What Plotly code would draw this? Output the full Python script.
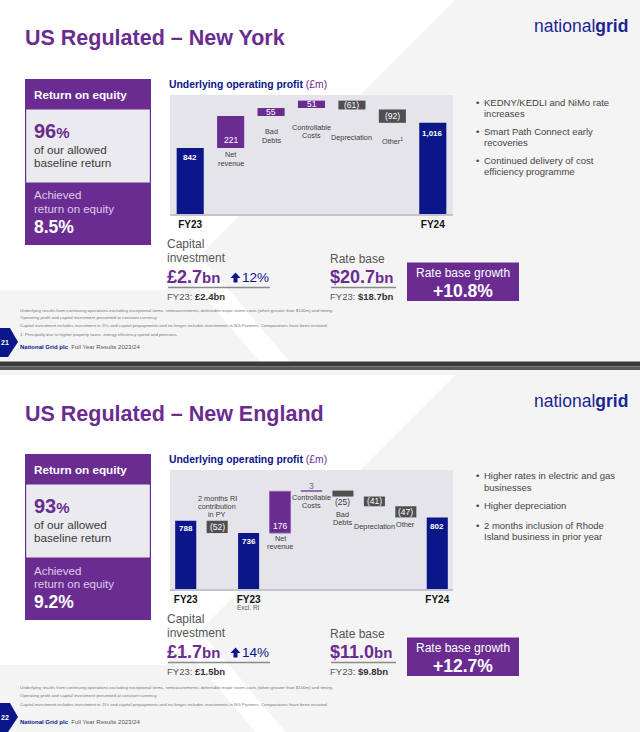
import plotly.graph_objects as go

W, H = 640, 732
OFF = 375  # vertical offset of the second slide

# ---------------- data: New York ----------------
NY_CATEGORIES = ["FY23", "Net revenue", "Bad Debts", "Controllable Costs", "Depreciation", "Other", "FY24"]
NY_VALUES = [842, 221, 55, 51, -61, -92, 1016]
NY_MEASURES = ["absolute", "relative", "relative", "relative", "relative", "relative", "total"]
NY_VALUE_TEXT = ["842", "221", "55", "51", "(61)", "(92)", "1,016"]
NY_CAT_TEXT = [[], ["Net", "revenue"], ["Bad", "Debts"], ["Controllable", "Costs"], ["Depreciation"], ["Other<sup>1</sup>"], []]
NY_TICK_TEXT = ["FY23", "", "", "", "", "", "FY24"]

NY_TITLE = "US Regulated – New York"
NY_ROE = "96"
NY_ACHIEVED = "8.5%"
NY_CAPEX = "£2.7"
NY_CAPEX_GROWTH = "12%"
NY_CAPEX_FY23 = "£2.4bn"
NY_RATE_BASE = "$20.7"
NY_RATE_BASE_FY23 = "$18.7bn"
NY_RB_GROWTH = "+10.8%"
NY_BULLETS = [["KEDNY/KEDLI and NiMo rate", "increases"],
              ["Smart Path Connect early", "recoveries"],
              ["Continued delivery of cost", "efficiency programme"]]
NY_FOOTNOTES = [
    "Underlying results from continuing operations excluding exceptional items, remeasurements, deferrable major storm costs (when greater than $100m) and timing.",
    "Operating profit and capital investment presented at constant currency.",
    "Capital investment includes investment in JVs and capital prepayments and no longer includes investments in NG Partners. Comparatives have been restated.",
    "1. Principally due to higher property taxes, energy efficiency spend and pensions.",
]
NY_PAGE = "21"

# ---------------- data: New England ----------------
NE_CATEGORIES = ["FY23", "RI", "FY23 Excl. RI", "Net revenue", "Controllable Costs", "Bad Debts", "Depreciation", "Other", "FY24"]
NE_VALUES = [788, -52, 736, 176, 3, -25, -41, -47, 802]
NE_MEASURES = ["absolute", "relative", "total", "relative", "relative", "relative", "relative", "relative", "total"]
NE_VALUE_TEXT = ["788", "(52)", "736", "176", "3", "(25)", "(41)", "(47)", "802"]
NE_CAT_TEXT = [[], ["2 months RI", "contribution", "in PY"], [], ["Net", "revenue"], ["Controllable", "Costs"],
               ["Bad", "Debts"], ["Depreciation"], ["Other"], []]
NE_TICK_TEXT = ["FY23", "", "FY23", "", "", "", "", "", "FY24"]
NE_TICK_SUB = ["", "", "Excl. RI", "", "", "", "", "", ""]

NE_TITLE = "US Regulated – New England"
NE_ROE = "93"
NE_ACHIEVED = "9.2%"
NE_CAPEX = "£1.7"
NE_CAPEX_GROWTH = "14%"
NE_CAPEX_FY23 = "£1.5bn"
NE_RATE_BASE = "$11.0"
NE_RATE_BASE_FY23 = "$9.8bn"
NE_RB_GROWTH = "+12.7%"
NE_BULLETS = [["Higher rates in electric and gas", "businesses"],
              ["Higher depreciation"],
              ["2 months inclusion of Rhode", "Island business in prior year"]]
NE_FOOTNOTES = NY_FOOTNOTES[:3]
NE_PAGE = "22"

FOOTER_BOLD = "National Grid plc"
FOOTER_TEXT = "Full Year Results 2023/24"

# ---------------- styles / positions ----------------
FONT = "Liberation Sans, Arial, sans-serif"
PURPLE = "#6b2c91"
NAVY = "#0b168a"
LOGO = "#1d2592"
DGREY = "#4f4f52"
CHART_BG = "#e4e4ea"
TXT = "#555555"
LAV = "#dccdea"

NY_VALUE_POS = [("top", 9.5), ("bottom", 7.5), ("center", 0), ("center", 0), ("center", 0), ("center", 0), ("top", 10.5)]
NY_CAT_FIRST = [0, 7, 16, 19, 28, 18.3, 0]
NY_CAT_ANCHOR = ["low"] * 7
NE_VALUE_POS = [("top", 8), ("center", 0), ("top", 8), ("bottom", 7.3), ("above", 5), ("below", 5.7),
                ("center", 0), ("center", 0), ("top", 9)]
NE_CAT_FIRST = [0, 22, 0, 5, 6, 18, 20.7, 7, 0]
NE_CAT_ANCHOR = ["low", "high", "low", "low", "low", "low", "low", "low", "low"]

NY_BULLET_Y = [[102.7, 113.3], [131.7, 142.3], [160.7, 171.0]]
NE_BULLET_Y = [[476.0, 487.7], [505.7], [525.0, 536.0]]
NY_FOOT_Y = [310.0, 317.8, 325.9, 334.2]
NE_FOOT_Y = [687.3, 695.8, 704.2]

shapes = []
anns = []


def px(x):
    return x / W


def py(y):
    return 1 - y / H


def T(x, y, text, size, color, bold=False, xa="left", ya="middle"):
    if bold:
        text = f"<b>{text}</b>"
    anns.append(dict(xref="paper", yref="paper", x=px(x), y=py(y), text=text, showarrow=False,
                     xanchor=xa, yanchor=ya, borderpad=0, borderwidth=0,
                     font=dict(family=FONT, size=size, color=color)))


def R(x0, y0, x1, y1, fill, line=None, lw=0):
    shapes.append(dict(type="rect", xref="paper", yref="paper", x0=px(x0), x1=px(x1), y0=py(y1), y1=py(y0),
                       fillcolor=fill, line=dict(color=line or fill, width=lw), layer="below"))


def L(x0, y0, x1, y1, color, lw):
    shapes.append(dict(type="line", xref="paper", yref="paper", x0=px(x0), x1=px(x1), y0=py(y0), y1=py(y1),
                       line=dict(color=color, width=lw), layer="below"))


def POLY(points, fill):
    d = "M " + " L ".join(f"{px(x):.5f},{py(y):.5f}" for x, y in points) + " Z"
    shapes.append(dict(type="path", xref="paper", yref="paper", path=d, fillcolor=fill,
                       line=dict(width=0, color=fill), layer="below"))


def edges(values, measures):
    run = 0
    lows, highs = [], []
    for v, m in zip(values, measures):
        if m == "absolute":
            lo, hi = 0, v
            run = v
        elif m == "total":
            lo, hi = 0, run
        else:
            a, b = run, run + v
            lo, hi = min(a, b), max(a, b)
            run += v
        lows.append(lo)
        highs.append(hi)
    return lows, highs


def chart_labels(xref, yref, cats, values, measures, vtext, vpos, ctext, cfirst, canchor, gap):
    lows, highs = edges(values, measures)
    for i, c in enumerate(cats):
        mode, off = vpos[i]
        total = measures[i] in ("absolute", "total")
        color = "white"
        if mode == "top":
            y, ys = highs[i], -off
        elif mode == "bottom":
            y, ys = lows[i], off
        elif mode == "center":
            y, ys = (lows[i] + highs[i]) / 2, 0
        elif mode == "above":
            y, ys, color = highs[i], off, "#6a6a6a"
        else:
            y, ys, color = lows[i], -off, "#3a3a3a"
        txt = f"<b>{vtext[i]}</b>" if total else vtext[i]
        anns.append(dict(xref=xref, yref=yref, x=c, y=y, yshift=ys, text=txt, showarrow=False,
                         xanchor="center", yanchor="middle", borderpad=0,
                         font=dict(family=FONT, size=8 if total else 8.5, color=color)))
        for j, line in enumerate(ctext[i]):
            if canchor[i] == "low":
                y, ys = lows[i], -(cfirst[i] + j * gap)
            else:
                y, ys = highs[i], cfirst[i] - j * gap
            anns.append(dict(xref=xref, yref=yref, x=c, y=y, yshift=ys, text=line, showarrow=False,
                             xanchor="center", yanchor="middle", borderpad=0,
                             font=dict(family=FONT, size=7.3, color="#3c3c3c")))


def slide(dy, title, page, roe, achieved, capex, capex_g, capex_prev, rb, rb_prev, rb_growth,
          bullets, bullet_y, footnotes, foot_y):
    # background decoration
    POLY([(0, dy), (455, dy), (165, 290 + dy), (0, 290 + dy)], "#ffffff")
    POLY([(135, 215 + dy), (165, 215 + dy), (290, 362 + dy), (260, 362 + dy)], "#ffffff")
    # title and logo
    T(25, 38.5 + dy, title, 21.5, PURPLE, bold=True)
    T(628, 25.5 + dy, "national<b>grid</b>", 17.5, LOGO, xa="right")
    # ROE box
    R(25, 79 + dy, 151, 109 + dy, PURPLE)
    R(25.6, 109 + dy, 150.4, 183 + dy, "#ebebef", PURPLE, 1.2)
    R(25, 183 + dy, 151, 245 + dy, PURPLE)
    T(34, 94.5 + dy, "Return on equity", 11.7, "white", bold=True)
    T(34, 130.5 + dy, f"{roe}<span style='font-size:15px'>%</span>", 20, PURPLE, bold=True)
    T(34, 149.5 + dy, "of our allowed", 11.7, "#3a3a3a")
    T(34, 162 + dy, "baseline return", 11.7, "#3a3a3a")
    T(34, 195.5 + dy, "Achieved", 11.5, LAV)
    T(34, 208.5 + dy, "return on equity", 11.5, LAV)
    T(34, 227 + dy, achieved, 17.5, "white", bold=True)
    # chart background + title
    R(170, 95 + dy, 453, 214 + dy, CHART_BG)
    T(169, 84 + dy, f"<b>Underlying operating profit</b> <span style='color:{PURPLE}'>(£m)</span>", 10.4, NAVY)
    # capital investment
    T(167, 244.3 + dy, "Capital", 12, TXT)
    T(167, 258.3 + dy, "investment", 12, TXT)
    T(167, 277 + dy, f"{capex}<span style='font-size:15px'>bn</span>", 18, PURPLE, bold=True)
    POLY([(230.5, 278 + dy), (235.5, 272.5 + dy), (240.5, 278 + dy), (237.5, 278 + dy), (237.5, 282.5 + dy),
          (233.5, 282.5 + dy), (233.5, 278 + dy)], NAVY)
    T(242, 277.5 + dy, capex_g, 13.5, NAVY)
    L(168, 287.5 + dy, 270, 287.5 + dy, "#8a8a8a", 1.5)
    T(167, 296 + dy, f"FY23: <b><span style='color:#333'>{capex_prev}</span></b>", 9.5, TXT)
    # rate base
    T(330, 259 + dy, "Rate base", 12, TXT)
    T(330, 277 + dy, f"{rb}<span style='font-size:15px'>bn</span>", 18, PURPLE, bold=True)
    L(331, 287.5 + dy, 396, 287.5 + dy, "#8a8a8a", 1.5)
    T(330, 296 + dy, f"FY23: <b><span style='color:#333'>{rb_prev}</span></b>", 9.5, TXT)
    R(407, 262.5 + dy, 519, 301 + dy, PURPLE)
    T(463, 272.5 + dy, "Rate base growth", 12, "white", xa="center")
    T(463, 290.5 + dy, rb_growth, 17.5, "white", bold=True, xa="center")
    # bullets
    for lines, ys in zip(bullets, bullet_y):
        T(476, ys[0], "•", 9.5, "#444")
        for line, y in zip(lines, ys):
            T(483.5, y, line, 9.5, "#444")
    # footnotes & footer
    for t, y in zip(footnotes, foot_y):
        T(20, y, t, 4.4, "#777")
    T(20, 346.7 + dy, f"<b><span style='color:{NAVY}'>{FOOTER_BOLD}</span></b>  {FOOTER_TEXT}", 6, "#555")
    POLY([(0, 328 + dy), (10, 328 + dy), (18, 342 + dy), (8, 357 + dy), (0, 357 + dy)], NAVY)
    T(4.5, 342 + dy, page, 7, "white", bold=True, xa="center")


slide(0, NY_TITLE, NY_PAGE, NY_ROE, NY_ACHIEVED, NY_CAPEX, NY_CAPEX_GROWTH, NY_CAPEX_FY23, NY_RATE_BASE,
      NY_RATE_BASE_FY23, NY_RB_GROWTH, NY_BULLETS, NY_BULLET_Y, NY_FOOTNOTES, NY_FOOT_Y)
slide(OFF, NE_TITLE, NE_PAGE, NE_ROE, NE_ACHIEVED, NE_CAPEX, NE_CAPEX_GROWTH, NE_CAPEX_FY23, NE_RATE_BASE,
      NE_RATE_BASE_FY23, NE_RB_GROWTH, NE_BULLETS, NE_BULLET_Y, NE_FOOTNOTES, NE_FOOT_Y)

# dark separator band between the slides
R(0, 361.5, 640, 366.5, "#3b3b3b")
R(0, 366.5, 640, 370, "#5a5a5a")

fig = go.Figure()
fig.add_trace(go.Waterfall(
    x=NY_CATEGORIES, y=NY_VALUES, measure=NY_MEASURES, xaxis="x", yaxis="y",
    increasing=dict(marker=dict(color=PURPLE)), decreasing=dict(marker=dict(color=DGREY)),
    totals=dict(marker=dict(color=NAVY)), connector=dict(visible=False), textinfo="none", hoverinfo="skip"))
fig.add_trace(go.Waterfall(
    x=NE_CATEGORIES, y=NE_VALUES, measure=NE_MEASURES, xaxis="x2", yaxis="y2",
    increasing=dict(marker=dict(color=PURPLE, line=dict(color="#8e6bb3", width=1))),
    decreasing=dict(marker=dict(color=DGREY)),
    totals=dict(marker=dict(color=NAVY)), connector=dict(visible=False), textinfo="none", hoverinfo="skip"))

chart_labels("x", "y", NY_CATEGORIES, NY_VALUES, NY_MEASURES, NY_VALUE_TEXT, NY_VALUE_POS,
             NY_CAT_TEXT, NY_CAT_FIRST, NY_CAT_ANCHOR, 8.3)
chart_labels("x2", "y2", NE_CATEGORIES, NE_VALUES, NE_MEASURES, NE_VALUE_TEXT, NE_VALUE_POS,
             NE_CAT_TEXT, NE_CAT_FIRST, NE_CAT_ANCHOR, 8)
for c, s in zip(NE_CATEGORIES, NE_TICK_SUB):
    if s:
        anns.append(dict(xref="x2", yref="paper", x=c, y=py(607), text=s, showarrow=False,
                         xanchor="center", yanchor="middle", borderpad=0,
                         font=dict(family=FONT, size=6.5, color="#555")))


def ticks(cats, texts):
    vals = [c for c, t in zip(cats, texts) if t]
    labels = [f"<b>{t}</b>" for t in texts if t]
    return vals, labels


ny_tv, ny_tt = ticks(NY_CATEGORIES, NY_TICK_TEXT)
ne_tv, ne_tt = ticks(NE_CATEGORIES, NE_TICK_TEXT)

xcommon = dict(type="category", showgrid=False, zeroline=False, showline=True, linecolor="#c4c4cc",
               linewidth=1.5, ticks="", tickfont=dict(family=FONT, size=10, color="#111"), fixedrange=True)
fig.update_layout(
    width=W, height=H, margin=dict(l=0, r=0, t=0, b=0), autosize=False,
    paper_bgcolor="#f4f4f4", plot_bgcolor="rgba(0,0,0,0)", showlegend=False,
    waterfallgap=0.33,
    xaxis=dict(domain=[px(170), px(453)], anchor="y", tickvals=ny_tv, ticktext=ny_tt,
               categoryorder="array", categoryarray=NY_CATEGORIES, **xcommon),
    yaxis=dict(domain=[py(214), py(95)], range=[386, 1208], visible=False, fixedrange=True),
    xaxis2=dict(domain=[px(170), px(453)], anchor="y2", tickvals=ne_tv, ticktext=ne_tt,
                categoryorder="array", categoryarray=NE_CATEGORIES, **xcommon),
    yaxis2=dict(domain=[py(589), py(470)], range=[500, 1002], visible=False, fixedrange=True),
    shapes=shapes, annotations=anns,
)
fig.write_html("out.html", config={"displayModeBar": False},
               post_script="document.body.style.margin='0';document.body.style.overflow='hidden';")
